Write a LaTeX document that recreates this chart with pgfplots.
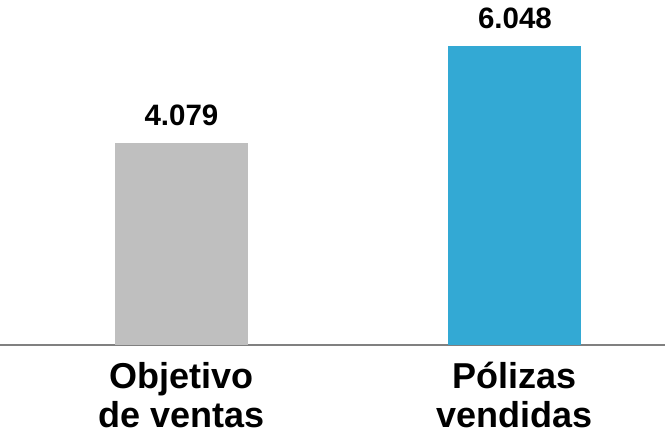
\documentclass[border=0pt]{standalone}
\usepackage{pgfplots}
\pgfplotsset{compat=1.18}
\usepackage{fontspec}
\setmainfont{Liberation Sans}
\definecolor{barGray}{HTML}{BFBFBF}
\definecolor{barBlue}{HTML}{33A9D4}
\definecolor{axGray}{HTML}{808080}
\begin{document}
\begin{tikzpicture}
\useasboundingbox (0pt,-93pt) rectangle (665pt,345pt);
\begin{axis}[
  at={(0pt,0pt)}, anchor=south west,
  scale only axis,
  width=665pt, height=345pt,
  xmin=-0.544, xmax=1.45,
  ymin=0, ymax=6978,
  axis x line*=bottom,
  axis y line=none,
  x axis line style={draw=axGray, line width=1.6pt, -},
  xtick={0,1},
  xticklabels={{Objetivo\\de ventas},{Pólizas\\vendidas}},
  xtick style={draw=none},
  xticklabel style={align=center, font=\fontsize{36}{39}\selectfont\bfseries, yshift=-14pt},
  ytick=\empty,
  bar width=133pt,
  nodes near coords,
  every node near coord/.append style={font=\fontsize{29.5}{31}\selectfont\bfseries, inner sep=0pt, yshift=17pt, anchor=south},
  /pgf/number format/.cd, 1000 sep={.}, assume math mode=true,
  clip=false,
]
\addplot[ybar, fill=barGray, draw=none] coordinates {(0,4079)};
\addplot[ybar, fill=barBlue, draw=none] coordinates {(1,6048)};
\end{axis}
\end{tikzpicture}
\end{document}
